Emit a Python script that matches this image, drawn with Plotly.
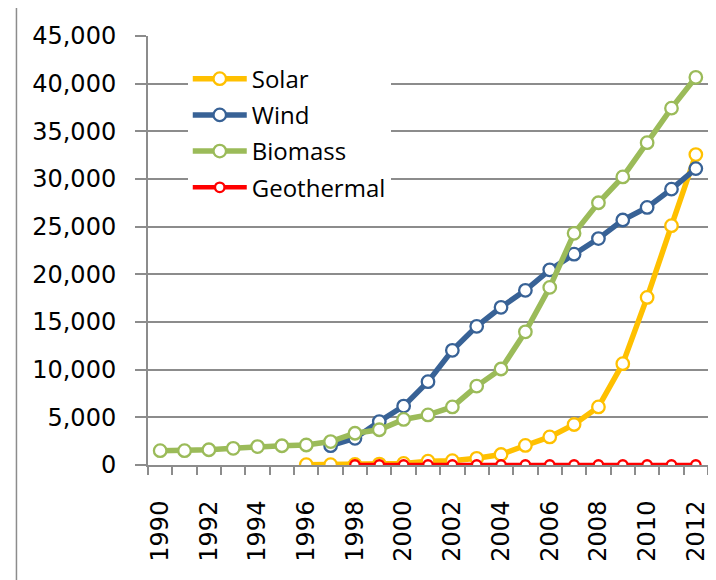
import plotly.graph_objects as go

years = list(range(1990, 2013))
solar = [None] * 6 + [30, 30, 50, 100, 170, 400, 450, 700, 1100, 2050, 2940,
                      4250, 6090, 10630, 17580, 25100, 32560]
wind = [None] * 7 + [2030, 2800, 4560, 6180, 8740, 12030, 14550, 16540, 18320,
                     20470, 22110, 23750, 25700, 27020, 28940, 31090]
biomass = [1500, 1500, 1600, 1750, 1930, 2020, 2100, 2460, 3330, 3700, 4780,
           5250, 6090, 8280, 10070, 13970, 18630, 24300, 27510, 30220, 33810,
           37430, 40670]
geothermal = [None] * 8 + [0] * 15
x_labels = [str(y) for y in range(1990, 2013, 2)]

series = [
    ("Solar", solar, "#FFC000", 5.5, 12.5),
    ("Wind", wind, "#386296", 5.5, 12.5),
    ("Biomass", biomass, "#9BBB59", 5.5, 12.5),
    ("Geothermal", geothermal, "#FF0000", 4.5, 9.5),
]

fig = go.Figure()
for name, vals, color, lw, ms in series:
    fig.add_trace(go.Scatter(
        x=years, y=vals, name=name, mode="lines+markers",
        legendgroup=name,
        line=dict(color=color, width=lw),
        marker=dict(symbol="circle", size=ms, color="white",
                    line=dict(color=color, width=2.3)),
        connectgaps=False,
    ))

grid = "#8c8c8c"
fig.update_layout(
    width=708, height=572,
    margin=dict(l=140, r=6, t=28, b=115),
    paper_bgcolor="white", plot_bgcolor="white",
    font=dict(family="DejaVu Sans", size=24, color="black"),
    showlegend=True,
    legend=dict(
        x=0.071, y=0.952, xanchor="left", yanchor="top",
        bgcolor="white", borderwidth=0,
        font=dict(family="Open Sans", size=24, color="black"),
        tracegroupgap=2, itemwidth=54,
    ),
    xaxis=dict(
        range=[1989.5, 2012.5],
        tickmode="array", tickvals=[int(t) for t in x_labels], ticktext=x_labels,
        tickangle=-90, ticks="", showgrid=False, zeroline=False,
        showline=True, linecolor=grid, linewidth=2,
        ticklabelstandoff=24,
        minor=dict(ticks="outside", tick0=1989.5, dtick=1, ticklen=8,
                   tickcolor=grid, tickwidth=2, showgrid=False),
        tickfont=dict(family="DejaVu Sans", size=24),
    ),
    yaxis=dict(
        range=[0, 45000], dtick=5000, tickformat=",d",
        ticks="outside", ticklen=11, tickcolor=grid, tickwidth=2,
        showgrid=True, gridcolor=grid, gridwidth=2, zeroline=False,
        showline=True, mirror=True, linecolor=grid, linewidth=2,
        ticklabelstandoff=14,
        tickfont=dict(family="DejaVu Sans", size=24),
    ),
    shapes=[dict(type="rect", xref="paper", yref="paper",
                 x0=-0.2349, x1=1.0053, y0=-0.3147, y1=1.0676,
                 line=dict(color=grid, width=1.5), fillcolor="rgba(0,0,0,0)",
                 layer="below")],
)

fig.write_html("out.html")
